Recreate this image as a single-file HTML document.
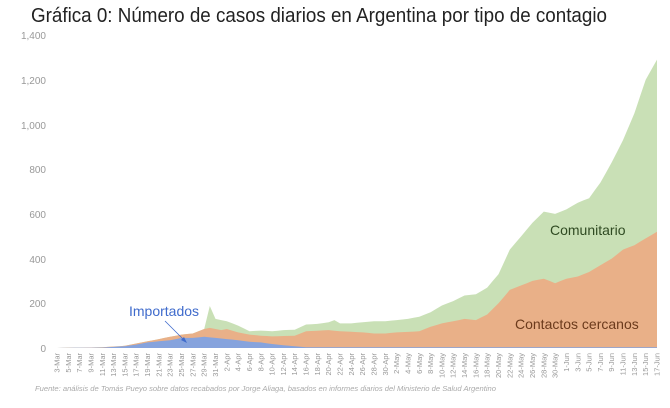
<!DOCTYPE html>
<html><head><meta charset="utf-8"><style>
body{margin:0;background:#fff;width:670px;height:403px;overflow:hidden;font-family:"Liberation Sans",sans-serif}
</style></head><body>
<svg id="s" width="670" height="403" xmlns="http://www.w3.org/2000/svg" font-family="Liberation Sans, sans-serif">
<text x="31" y="22" font-size="20.5" fill="#222" textLength="576" lengthAdjust="spacingAndGlyphs">Gráfica 0: Número de casos diarios en Argentina por tipo de contagio</text>
<g font-size="10" fill="#999" text-anchor="end">
<text x="46" y="39">1,400</text><text x="46" y="84">1,200</text><text x="46" y="129">1,000</text>
<text x="46" y="173">800</text><text x="46" y="218">600</text><text x="46" y="263">400</text>
<text x="46" y="307">200</text><text x="46" y="352">0</text>
</g>
<g id="areas"></g>
<g id="xl" font-size="7.5" fill="#999"></g>
<text x="35" y="391" font-size="7.6" fill="#aaa" font-style="italic">Fuente: análisis de Tomás Pueyo sobre datos recabados por Jorge Aliaga, basados en informes diarios del Ministerio de Salud Argentino</text>
<text x="550" y="235" font-size="14" fill="#2f4a22">Comunitario</text>
<text x="515" y="329" font-size="14" fill="#6b3a1c">Contactos cercanos</text>
<text x="129" y="316" font-size="14" fill="#3f6bcc">Importados</text>
<line x1="165" y1="321" x2="185" y2="341" stroke="#3f6bcc" stroke-width="0.8"/>
<polygon points="187,343 181,340 184,337" fill="#3f6bcc"/>
</svg>
<script>
var NS="http://www.w3.org/2000/svg";
function interp(k){var a=[];for(var i=0;i<k.length-1;i++){var d0=k[i][0],v0=k[i][1],d1=k[i+1][0],v1=k[i+1][1];for(var d=d0;d<d1;d++)a[d]=v0+(v1-v0)*(d-d0)/(d1-d0);}a[k[k.length-1][0]]=k[k.length-1][1];return a;}
// day index: 0=3-Mar, 29=1-Apr, 59=1-May, 90=1-Jun, 106=17-Jun
var tot=interp([[0,0],[8,3],[12,10],[14,20],[16,30],[18,40],[20,50],[22,60],[24,65],[26,85],[27,188],[28,130],[30,120],[32,100],[34,75],[36,78],[38,75],[40,80],[42,82],[44,105],[46,108],[48,115],[49,125],[50,110],[52,110],[54,115],[56,120],[58,120],[60,125],[62,130],[64,140],[66,160],[68,190],[70,210],[72,235],[74,240],[76,270],[78,330],[80,440],[82,500],[84,560],[86,610],[88,600],[90,620],[92,650],[94,670],[96,740],[98,830],[100,930],[102,1050],[104,1200],[106,1290]]);
var ora=interp([[0,0],[8,3],[12,10],[14,20],[16,30],[18,40],[20,50],[22,60],[24,65],[26,85],[27,90],[29,80],[30,85],[32,70],[34,60],[36,55],[38,52],[42,55],[44,75],[48,80],[50,75],[54,70],[56,65],[58,65],[60,70],[62,72],[64,75],[66,95],[68,110],[70,120],[72,130],[74,125],[76,150],[78,200],[80,260],[82,280],[84,300],[86,310],[88,290],[90,310],[92,320],[94,340],[96,370],[98,400],[100,440],[102,460],[104,490],[106,520]]);
var blu=interp([[0,0],[8,2],[12,8],[14,15],[16,25],[18,30],[20,35],[22,45],[24,45],[26,50],[28,45],[30,40],[32,35],[34,28],[36,25],[38,18],[40,12],[42,8],[44,3],[106,3]]);
function X(d){return 57+d*600/106}function Y(v){return 348-v*313/1400}
function path(arr,col){var p="M"+X(0)+","+Y(0);for(var d=0;d<=106;d++)p+="L"+X(d).toFixed(1)+","+Y(arr[d]).toFixed(1);p+="L"+X(106)+","+Y(0)+"Z";var e=document.createElementNS(NS,"path");e.setAttribute("d",p);e.setAttribute("fill",col);document.getElementById("areas").appendChild(e);}
path(tot,"#c9e0b6");path(ora,"#e9b088");path(blu,"#86a3dd");
var m=["Mar","Apr","May","Jun"],st=[3,1,1,1],len=[31,30,31,30];
var mi=0,day=3,g=document.getElementById("xl");
for(var d=0;d<=106;d++){if(d%2==0){var t=document.createElementNS(NS,"text");var x=X(d)+2.5;t.setAttribute("transform","translate("+x.toFixed(1)+",353) rotate(-90)");t.setAttribute("text-anchor","end");t.textContent=day+"-"+m[mi];g.appendChild(t);}day++;if(day>len[mi]){day=1;mi++;}}
</script>
</body></html>
